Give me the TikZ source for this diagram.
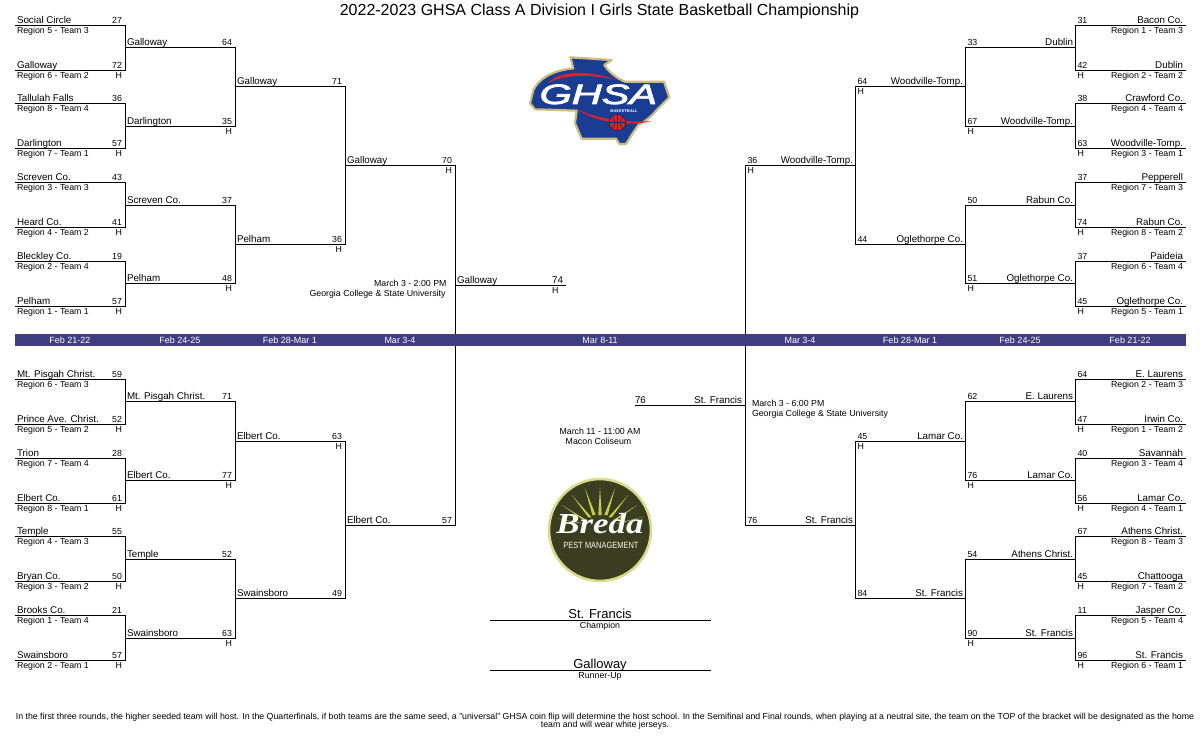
\documentclass[tikz,border=0pt]{standalone}
\usepackage{fontspec}
\setmainfont{Liberation Sans}
\newfontfamily\brfont{Liberation Serif}
\newfontfamily\ghfont[FakeBold=2.5]{Liberation Sans}
\definecolor{bandblue}{HTML}{3F3D7F}
\definecolor{ghnavy}{HTML}{1B3C93}
\definecolor{ghdeep}{HTML}{14296B}
\definecolor{ghtan}{HTML}{CDBC80}
\definecolor{ghred}{HTML}{D8232F}
\definecolor{brdark}{HTML}{3A3D1F}
\definecolor{brrim}{HTML}{D9DC8C}
\definecolor{brray}{HTML}{C6CE4C}
\tikzset{
  wire/.style={line width=1pt,line cap=rect,draw=black},
  tn/.style={inner sep=0pt,outer sep=0pt,font=\fontsize{9.8}{10}\selectfont},
  ts/.style={inner sep=0pt,outer sep=0pt,font=\fontsize{8.8}{10}\selectfont},
  band/.style={inner sep=0pt,outer sep=0pt,text=white,font=\fontsize{9}{10}\selectfont,anchor=base},
  big/.style={inner sep=0pt,outer sep=0pt,font=\fontsize{13}{13}\selectfont,anchor=base},
}
% left-side slot: id, left x, y, team, score, H, region
\newcommand\slotL[7]{%
  \coordinate (#1a) at (#2,#3);
  \coordinate (#1b) at (#2+110,#3);
  \draw[wire] (#1a) -- (#1b);
  \node[tn,anchor=base west] (#1n) at (#2+2,#3-1.8) {#4};
  \node[ts,anchor=base east] (#1s) at (#2+107,#3-1.8) {#5};
  \if\relax\detokenize{#6}\relax\else\node[ts,anchor=base east] (#1h) at (#2+107,#3+8.2) {#6};\fi
  \if\relax\detokenize{#7}\relax\else\node[ts,anchor=base west] (#1r) at (#2+2,#3+8.2) {#7};\fi
}
% right-side slot: id, right x, y, team, score, H, region
\newcommand\slotR[7]{%
  \coordinate (#1a) at (#2,#3);
  \coordinate (#1b) at (#2-110,#3);
  \draw[wire] (#1a) -- (#1b);
  \node[tn,anchor=base east] (#1n) at (#2-2.5,#3-1.8) {#4};
  \node[ts,anchor=base west] (#1s) at (#2-108,#3-1.8) {#5};
  \if\relax\detokenize{#6}\relax\else\node[ts,anchor=base west] (#1h) at (#2-108,#3+8.2) {#6};\fi
  \if\relax\detokenize{#7}\relax\else\node[ts,anchor=base east] (#1r) at (#2-2.5,#3+8.2) {#7};\fi
}
\newcommand\joinup[2]{\draw[wire] (#1b) -- (#2b);}
\begin{document}
\begin{tikzpicture}[x=1pt,y=-1pt]
\useasboundingbox (0,0) rectangle (1200,750);
\fill[white] (0,0) rectangle (1200,750);
\node[inner sep=0pt,font=\fontsize{16}{16}\selectfont,anchor=base] (title) at (599.5,15) {2022-2023 GHSA Class A Division I Girls State Basketball Championship};

% ---------- left top
\slotL{a1}{15}{25.3}{Social Circle}{27}{}{Region 5 - Team 3}
\slotL{a2}{15}{70.3}{Galloway}{72}{H}{Region 6 - Team 2}
\slotL{a3}{15}{103.3}{Tallulah Falls}{36}{}{Region 8 - Team 4}
\slotL{a4}{15}{148.3}{Darlington}{57}{H}{Region 7 - Team 1}
\slotL{a5}{15}{182.3}{Screven Co.}{43}{}{Region 3 - Team 3}
\slotL{a6}{15}{227.3}{Heard Co.}{41}{H}{Region 4 - Team 2}
\slotL{a7}{15}{261}{Bleckley Co.}{19}{}{Region 2 - Team 4}
\slotL{a8}{15}{306}{Pelham}{57}{H}{Region 1 - Team 1}
\joinup{a1}{a2}\joinup{a3}{a4}\joinup{a5}{a6}\joinup{a7}{a8}
\slotL{b1}{125}{47.5}{Galloway}{64}{}{}
\slotL{b2}{125}{126.3}{Darlington}{35}{H}{}
\slotL{b3}{125}{205}{Screven Co.}{37}{}{}
\slotL{b4}{125}{283.3}{Pelham}{48}{H}{}
\joinup{b1}{b2}\joinup{b3}{b4}
\slotL{c1}{235}{86.3}{Galloway}{71}{}{}
\slotL{c2}{235}{244.3}{Pelham}{36}{H}{}
\joinup{c1}{c2}
\slotL{d1}{345}{165.3}{Galloway}{70}{H}{}
% ---------- left bottom
\slotL{e1}{15}{379.3}{Mt. Pisgah Christ.}{59}{}{Region 6 - Team 3}
\slotL{e2}{15}{424.3}{Prince Ave. Christ.}{52}{H}{Region 5 - Team 2}
\slotL{e3}{15}{458.3}{Trion}{28}{}{Region 7 - Team 4}
\slotL{e4}{15}{503.3}{Elbert Co.}{61}{H}{Region 8 - Team 1}
\slotL{e5}{15}{536.3}{Temple}{55}{}{Region 4 - Team 3}
\slotL{e6}{15}{581.3}{Bryan Co.}{50}{H}{Region 3 - Team 2}
\slotL{e7}{15}{615.3}{Brooks Co.}{21}{}{Region 1 - Team 4}
\slotL{e8}{15}{660.3}{Swainsboro}{57}{H}{Region 2 - Team 1}
\joinup{e1}{e2}\joinup{e3}{e4}\joinup{e5}{e6}\joinup{e7}{e8}
\slotL{f1}{125}{401.5}{Mt. Pisgah Christ.}{71}{}{}
\slotL{f2}{125}{480.3}{Elbert Co.}{77}{H}{}
\slotL{f3}{125}{559.3}{Temple}{52}{}{}
\slotL{f4}{125}{638}{Swainsboro}{63}{H}{}
\joinup{f1}{f2}\joinup{f3}{f4}
\slotL{g1}{235}{441}{Elbert Co.}{63}{H}{}
\slotL{g2}{235}{598.3}{Swainsboro}{49}{}{}
\joinup{g1}{g2}
\slotL{h1}{345}{525.5}{Elbert Co.}{57}{}{}
\draw[wire] (d1b) -- (h1b);
% ---------- left final
\coordinate (fla) at (455,285.3);
\coordinate (flb) at (565.5,285.3);
\draw[wire] (fla) -- (flb);
\node[tn,anchor=base west] (fln) at (457,283.5) {Galloway};
\node[tn,anchor=base east] (fls) at (563,283.5) {74};
\node[ts,anchor=base east] (flh) at (558.5,293.5) {H};

% ---------- right top
\slotR{p1}{1185.5}{25.3}{Bacon Co.}{31}{}{Region 1 - Team 3}
\slotR{p2}{1185.5}{70.3}{Dublin}{42}{H}{Region 2 - Team 2}
\slotR{p3}{1185.5}{103.3}{Crawford Co.}{38}{}{Region 4 - Team 4}
\slotR{p4}{1185.5}{148.3}{Woodville-Tomp.}{63}{H}{Region 3 - Team 1}
\slotR{p5}{1185.5}{182.3}{Pepperell}{37}{}{Region 7 - Team 3}
\slotR{p6}{1185.5}{227.3}{Rabun Co.}{74}{H}{Region 8 - Team 2}
\slotR{p7}{1185.5}{261}{Paideia}{37}{}{Region 6 - Team 4}
\slotR{p8}{1185.5}{306}{Oglethorpe Co.}{45}{H}{Region 5 - Team 1}
\joinup{p1}{p2}\joinup{p3}{p4}\joinup{p5}{p6}\joinup{p7}{p8}
\slotR{q1}{1075.5}{47.5}{Dublin}{33}{}{}
\slotR{q2}{1075.5}{126.3}{Woodville-Tomp.}{67}{H}{}
\slotR{q3}{1075.5}{205}{Rabun Co.}{50}{}{}
\slotR{q4}{1075.5}{283.3}{Oglethorpe Co.}{51}{H}{}
\joinup{q1}{q2}\joinup{q3}{q4}
\slotR{r1}{965.5}{86.3}{Woodville-Tomp.}{64}{H}{}
\slotR{r2}{965.5}{244.3}{Oglethorpe Co.}{44}{}{}
\joinup{r1}{r2}
\slotR{s1}{855.5}{165.3}{Woodville-Tomp.}{36}{H}{}
% ---------- right bottom
\slotR{t1}{1185.5}{379.3}{E. Laurens}{64}{}{Region 2 - Team 3}
\slotR{t2}{1185.5}{424.3}{Irwin Co.}{47}{H}{Region 1 - Team 2}
\slotR{t3}{1185.5}{458.3}{Savannah}{40}{}{Region 3 - Team 4}
\slotR{t4}{1185.5}{503.3}{Lamar Co.}{56}{H}{Region 4 - Team 1}
\slotR{t5}{1185.5}{536.3}{Athens Christ.}{67}{}{Region 8 - Team 3}
\slotR{t6}{1185.5}{581.3}{Chattooga}{45}{H}{Region 7 - Team 2}
\slotR{t7}{1185.5}{615.3}{Jasper Co.}{11}{}{Region 5 - Team 4}
\slotR{t8}{1185.5}{660.3}{St. Francis}{96}{H}{Region 6 - Team 1}
\joinup{t1}{t2}\joinup{t3}{t4}\joinup{t5}{t6}\joinup{t7}{t8}
\slotR{u1}{1075.5}{401.5}{E. Laurens}{62}{}{}
\slotR{u2}{1075.5}{480.3}{Lamar Co.}{76}{H}{}
\slotR{u3}{1075.5}{559.3}{Athens Christ.}{54}{}{}
\slotR{u4}{1075.5}{638}{St. Francis}{90}{H}{}
\joinup{u1}{u2}\joinup{u3}{u4}
\slotR{v1}{965.5}{441.3}{Lamar Co.}{45}{H}{}
\slotR{v2}{965.5}{598.3}{St. Francis}{84}{}{}
\joinup{v1}{v2}
\slotR{w1}{855.5}{525.5}{St. Francis}{76}{}{}
\draw[wire] (s1b) -- (w1b);
% ---------- right final
\coordinate (fra) at (745.5,405.3);
\coordinate (frb) at (635,405.3);
\draw[wire] (fra) -- (frb);
\node[tn,anchor=base east] (frn) at (742,403.5) {St. Francis};
\node[tn,anchor=base west] (frs) at (635,403.5) {76};

% ---------- date band
\fill[bandblue] (15,334) rectangle (1186,346);
\node[band] (d01) at (70,343.3) {Feb 21-22};
\node[band] (d02) at (180,343.3) {Feb 24-25};
\node[band] (d03) at (290,343.3) {Feb 28-Mar 1};
\node[band] (d04) at (400,343.3) {Mar 3-4};
\node[band] (d05) at (600,343.3) {Mar 8-11};
\node[band] (d06) at (800,343.3) {Mar 3-4};
\node[band] (d07) at (910,343.3) {Feb 28-Mar 1};
\node[band] (d08) at (1020,343.3) {Feb 24-25};
\node[band] (d09) at (1130,343.3) {Feb 21-22};

% ---------- game notes
\node[ts,anchor=base east] (n1) at (446.5,286) {March 3 - 2:00 PM};
\node[ts,anchor=base east] (n2) at (445.5,296) {Georgia College \& State University};
\node[ts,anchor=base west] (n3) at (752,406) {March 3 - 6:00 PM};
\node[ts,anchor=base west] (n4) at (752,416) {Georgia College \& State University};
\node[ts,anchor=base] (n5) at (600,434.3) {March 11 - 11:00 AM};
\node[ts,anchor=base] (n6) at (598.5,444.5) {Macon Coliseum};

% ---------- champion / runner-up
\coordinate (cha) at (490,620.5);
\coordinate (chb) at (711,620.5);
\draw[wire,line cap=butt] (cha) -- (chb);
\node[big] (chn) at (600,618) {St. Francis};
\node[ts,anchor=base] (chl) at (600,628) {Champion};
\coordinate (rua) at (490,670.5);
\coordinate (rub) at (711,670.5);
\draw[wire,line cap=butt] (rua) -- (rub);
\node[big] (run) at (600,668) {Galloway};
\node[ts,anchor=base] (rul) at (600,678) {Runner-Up};

% ---------- footnote
\node[inner sep=0pt,anchor=base,font=\fontsize{8.77}{8}\selectfont] (fn1) at (605,719.5) {In the first three rounds, the higher seeded team will host. In the Quarterfinals, if both teams are the same seed, a "universal" GHSA coin flip will determine the host school. In the Semifinal and Final rounds, when playing at a neutral site, the team on the TOP of the bracket will be designated as the home};
\node[inner sep=0pt,anchor=base,font=\fontsize{8.77}{8}\selectfont] (fn2) at (605,727.3) {team and will wear white jerseys.};

% ---------- GHSA logo
\begin{scope}[shift={(510,40)},x=0.3333pt,y=-0.3333pt]
  \path[fill=ghnavy,draw=ghtan,line width=2.2pt,line join=round]
    (181,52) -- (305,60) -- (283,75) .. controls (295,95) and (320,115) .. (345,125)
    -- (462,125) -- (478,172) -- (440,210) .. controls (420,235) and (395,250) .. (385,255)
    -- (368,280) -- (348,312) -- (328,312) -- (318,296) -- (215,296) -- (195,250) -- (200,212)
    -- (75,208) -- (60,190) -- (70,150) .. controls (85,120) and (120,92) .. (190,85) -- cycle;
  \fill[ghred] (112,130) .. controls (150,92) and (230,88) .. (320,120)
    .. controls (230,100) and (160,105) .. (112,130) -- cycle;
  \fill[ghred] (195,203) .. controls (240,240) and (340,265) .. (425,243)
    .. controls (340,250) and (240,232) .. (195,203) -- cycle;
  \node[inner sep=0pt,text=white,font=\fontsize{28}{28}\selectfont\ghfont\itshape] (ghsa) at (265,163)
    {\scalebox{1.48}[1]{GHSA}};
  \node[inner sep=0pt,text=white,font=\fontsize{4}{4}\selectfont\bfseries\itshape] (ghbb) at (342,213)
    {BASKETBALL};
  \path[fill=ghred,draw=ghdeep,line width=0.8pt] (322,248) circle [radius=25];
  \draw[ghdeep,line width=0.5pt] (297,248) -- (347,248) (322,223) -- (322,273);
  \draw[ghdeep,line width=0.5pt] (304,230) .. controls (318,240) and (318,258) .. (304,266)
    (340,230) .. controls (326,240) and (326,258) .. (340,266);
\end{scope}

% ---------- Breda logo
\begin{scope}[shift={(520,460)},x=0.3333pt,y=-0.3333pt]
  \path[fill=brdark,draw=brrim,line width=2.6pt] (240,210) circle [radius=153];
  \foreach \tipx/\tipy/\bx/\by in {
     240/80/240/165, 195/85/222/165, 285/85/258/165, 155/105/210/172, 325/105/270/172,
     125/135/195/180, 352/135/285/180, 108/175/185/190, 372/170/295/190}{
    \fill[brray] (\tipx,\tipy) -- (\bx-5,\by) -- (\bx+5,\by) -- cycle;
  }
  \node[inner sep=0pt,text=white,font=\fontsize{29}{29}\selectfont\brfont\bfseries\itshape] (brt) at (240,191) {\scalebox{1.2}[1]{Breda}};
  \node[inner sep=0pt,text=white!85!brrim,font=\fontsize{9}{9}\selectfont] (brp) at (243,256) {\scalebox{0.83}[1]{PEST MANAGEMENT}};
\end{scope}
\end{tikzpicture}
\end{document}
